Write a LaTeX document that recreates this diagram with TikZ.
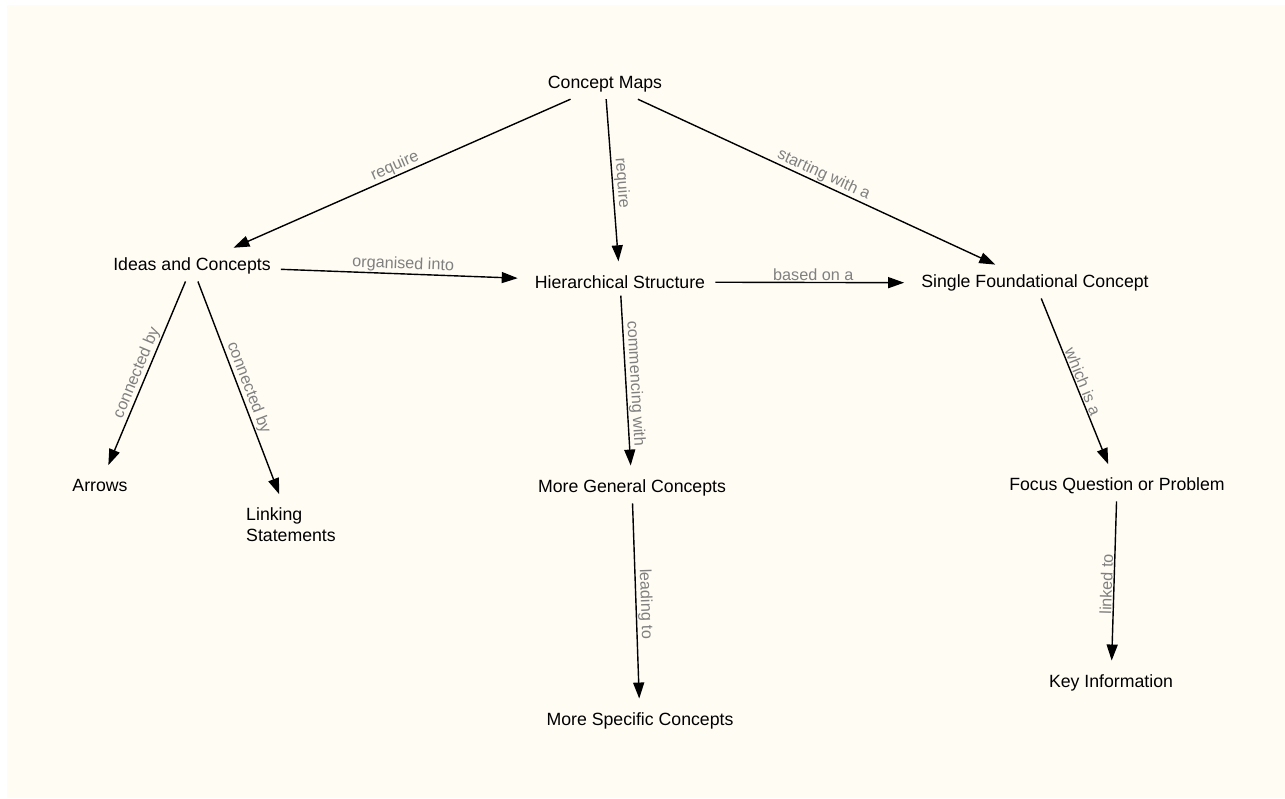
\documentclass[tikz,border=0pt]{standalone}
\usepackage{fontspec}
\setmainfont{Liberation Sans}
\usetikzlibrary{arrows.meta}
\definecolor{paper}{RGB}{255,252,244}
\definecolor{linkgray}{RGB}{128,128,128}
\tikzstyle{concept}=[font=\fontsize{17.7}{21}\selectfont, inner xsep=10pt, inner ysep=7pt, align=left]
\tikzstyle{edge} = [draw, line width=1.4pt, -{Triangle[length=16pt,width=11pt]}, shorten >=7pt]
\tikzstyle{weight} = [font=\fontsize{16.2}{18}\selectfont, text=linkgray, sloped, above=1pt, inner sep=0pt]
\begin{document}
\begin{tikzpicture}[x=1pt, y=-1pt]

   \fill[white] (0,0) rectangle (1285,798);
   \fill[paper] (7,5) rectangle (1285,798);
   \useasboundingbox (0,0) rectangle (1285,798);

    \foreach \pos/ \name / \txt in {{(605,84)/cmaps/Concept Maps},
        {(192,266)/ideas/Ideas and Concepts},
        {(620,282)/hier/Hierarchical Structure},
        {(1035,283)/single/Single Foundational Concept},
        {(100,485)/arrows/Arrows},
        {(291,525)/linking/Linking\\Statements},
        {(632,488)/general/More General Concepts},
        {(640,721)/specific/More Specific Concepts},
        {(1117,486)/focus/Focus Question or Problem},
        {(1111,683)/keyinfo/Key Information}}
        \node[concept] (\name) at \pos {\txt};

    % Connect concepts with links and write the linking words
    \foreach \source/ \dest/\weight in {cmaps/ideas/require,cmaps/hier/require,
        cmaps/single/starting with a,ideas/hier/organised into,hier/single/based on a,
        ideas/arrows/connected by,ideas/linking/connected by,hier/general/commencing with,
        general/specific/leading to,single/focus/which is a,focus/keyinfo/linked to}
        \draw[edge] (\source) -- node[weight] {\weight} (\dest);

\end{tikzpicture}
\end{document}
